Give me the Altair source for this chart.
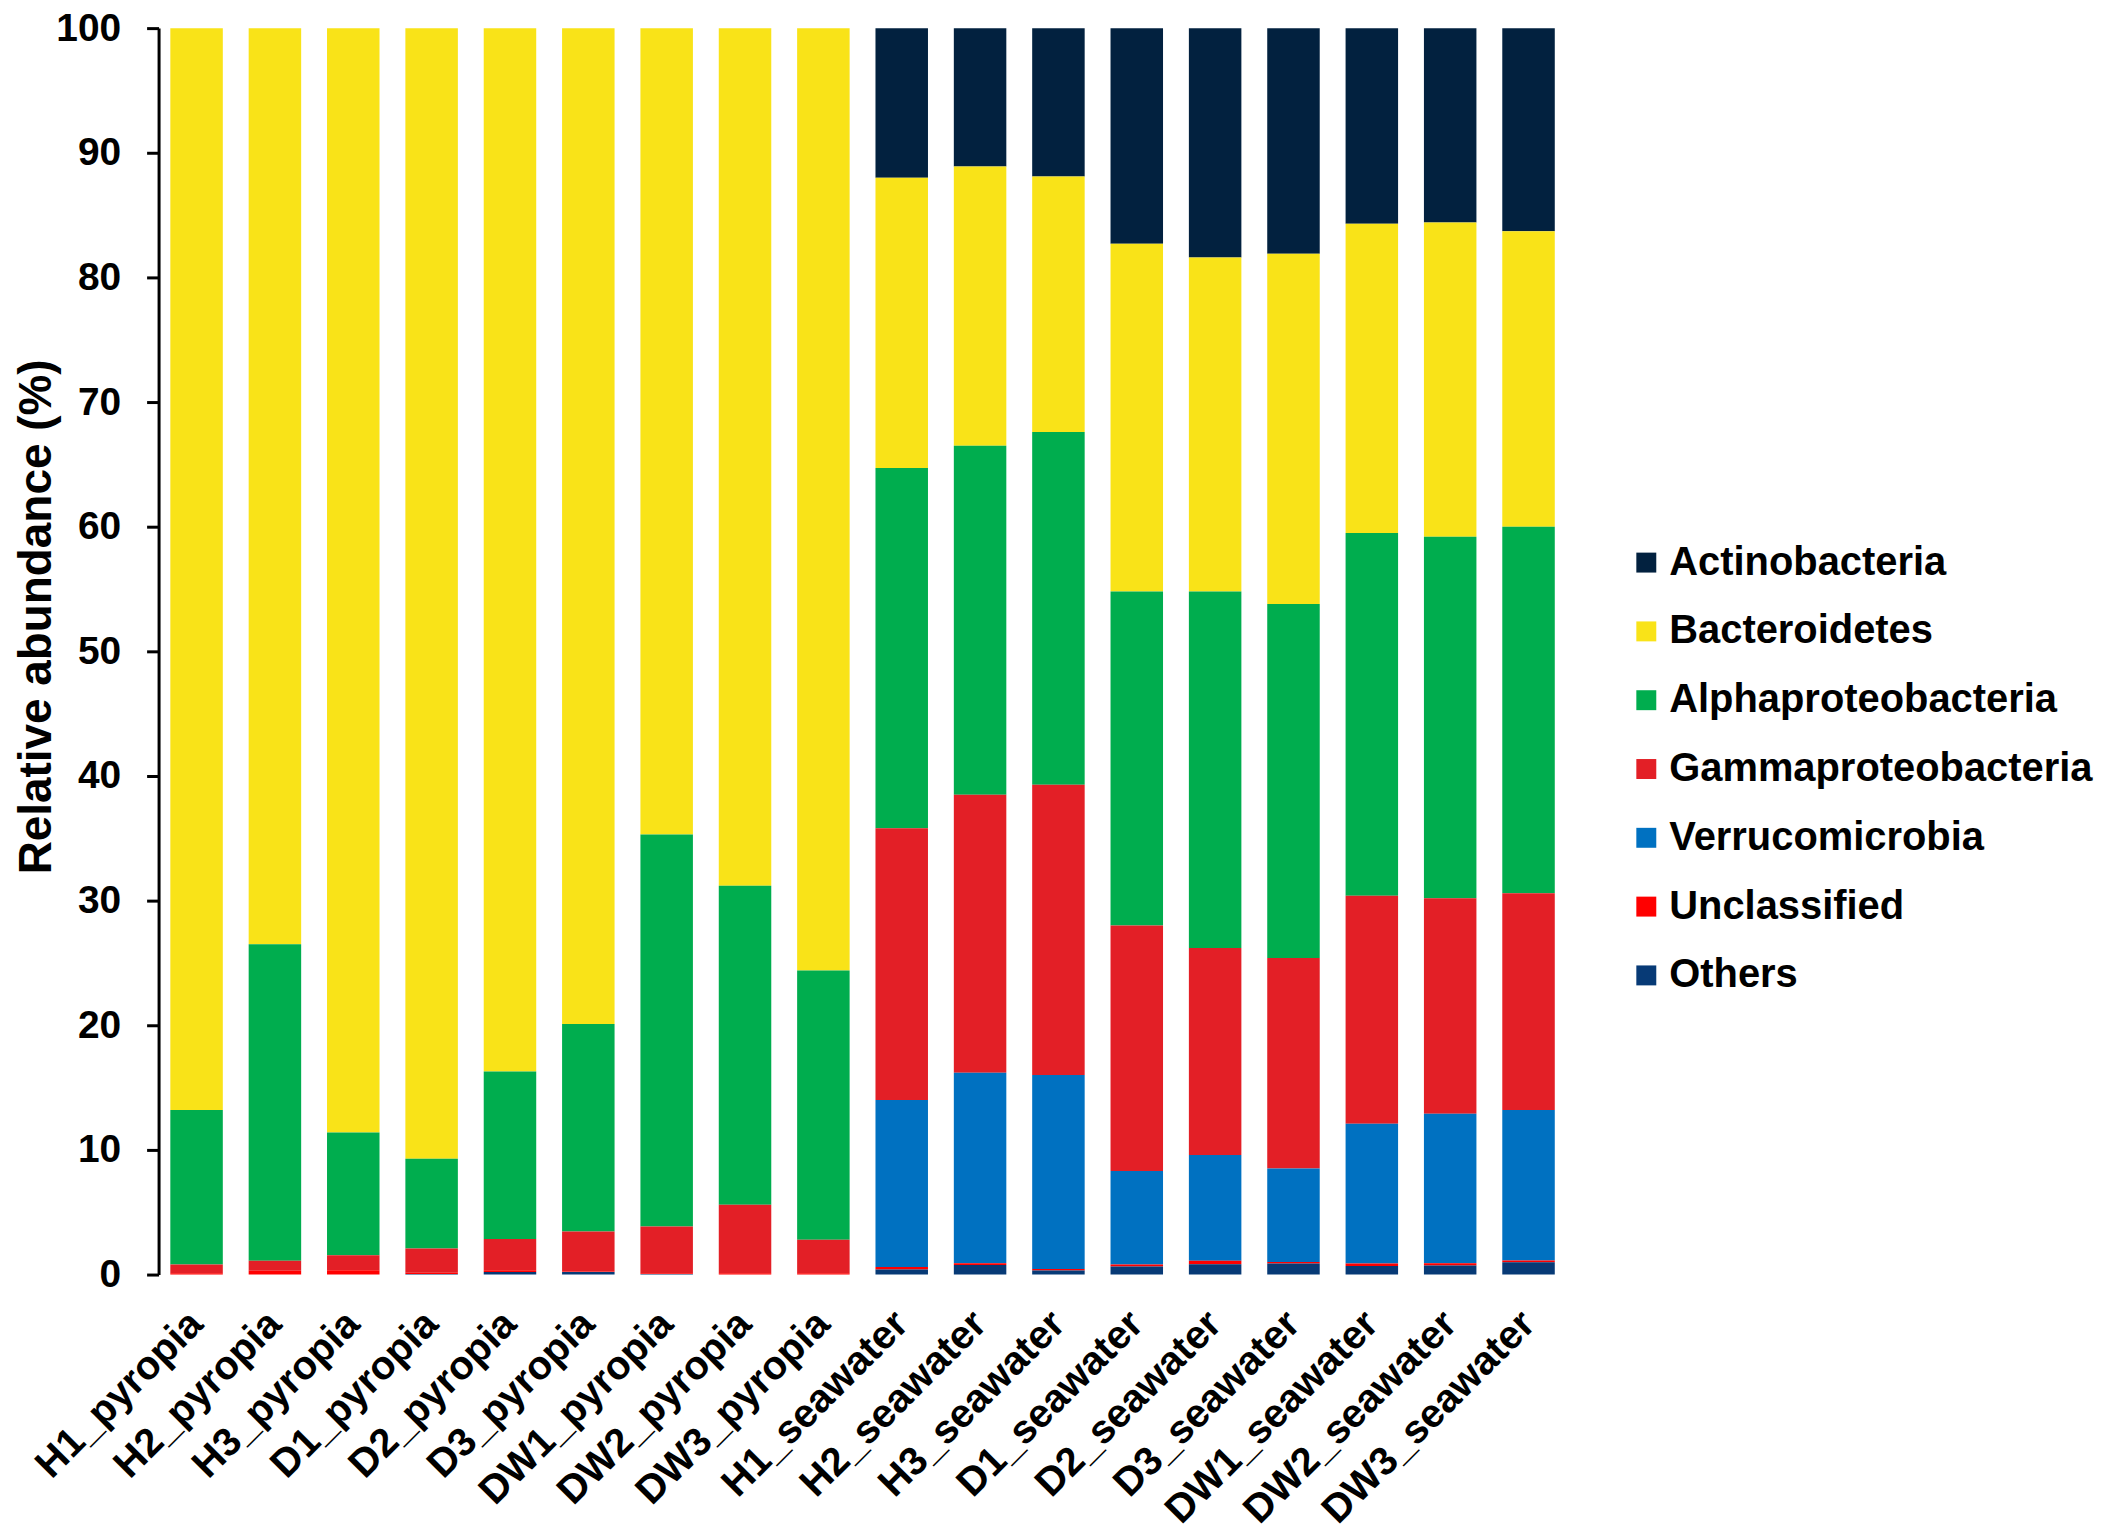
import altair as alt
import pandas as pd

samples = ["H1_pyropia", "H2_pyropia", "H3_pyropia", "D1_pyropia", "D2_pyropia",
           "D3_pyropia", "DW1_pyropia", "DW2_pyropia", "DW3_pyropia",
           "H1_seawater", "H2_seawater", "H3_seawater", "D1_seawater", "D2_seawater",
           "D3_seawater", "DW1_seawater", "DW2_seawater", "DW3_seawater"]

taxa = ["Actinobacteria", "Bacteroidetes", "Alphaproteobacteria",
        "Gammaproteobacteria", "Verrucomicrobia", "Unclassified", "Others"]
colors = ["#02213F", "#F9E318", "#00AD4E", "#E31F26", "#0071C1", "#FF0000", "#073A76"]

actinobacteria = [0, 0, 0, 0, 0, 0, 0, 0, 0,
                  12.0, 11.1, 11.9, 17.3, 18.4, 18.1, 15.7, 15.6, 16.3]
bacteroidetes = [86.8, 73.5, 88.6, 90.7, 83.7, 79.9, 64.7, 68.8, 75.6,
                 23.3, 22.4, 20.5, 27.9, 26.8, 28.1, 24.8, 25.2, 23.7]
alphaproteobacteria = [12.4, 25.4, 9.85, 7.2, 13.45, 16.65, 31.45, 25.6, 21.6,
                       28.9, 28.0, 28.3, 26.8, 28.6, 28.4, 29.1, 29.0, 29.4]
gammaproteobacteria = [0.7, 0.8, 1.2, 1.95, 2.5, 3.2, 3.75, 5.5, 2.7,
                       21.8, 22.3, 23.3, 19.7, 16.6, 16.9, 18.3, 17.3, 17.4]
verrucomicrobia = [0, 0, 0, 0, 0, 0, 0, 0, 0,
                   13.4, 15.3, 15.55, 7.5, 8.5, 7.5, 11.22, 12.0, 12.08]
unclassified = [0.1, 0.3, 0.35, 0.1, 0.15, 0.05, 0.05, 0.1, 0.1,
                0.2, 0.13, 0.13, 0.16, 0.27, 0.12, 0.19, 0.18, 0.13]
others = [0, 0, 0, 0.05, 0.2, 0.2, 0.05, 0, 0,
          0.4, 0.77, 0.32, 0.64, 0.83, 0.88, 0.69, 0.72, 0.99]

series = [actinobacteria, bacteroidetes, alphaproteobacteria, gammaproteobacteria,
          verrucomicrobia, unclassified, others]

rows = []
for ti, (name, vals) in enumerate(zip(taxa, series)):
    for s, v in zip(samples, vals):
        rows.append({"sample": s, "taxon": name, "value": v, "ord": len(taxa) - ti})
df = pd.DataFrame(rows)

FONT = "Liberation Sans"
label_expr = "indexof(['Bacteroidetes','Alphaproteobacteria','Gammaproteobacteria'], datum.label) >= 0 ? '\u00a0' + datum.label : datum.label"

chart = alt.Chart(df).mark_bar().encode(
    x=alt.X("sample:N", sort=samples,
            scale=alt.Scale(paddingInner=0.33, paddingOuter=0.15),
            axis=alt.Axis(title=None, domain=False, ticks=False,
                          labelAngle=315, labelAlign="right", labelBaseline="middle",
                          labelFont=FONT, labelFontSize=40, labelFontWeight="bold",
                          labelColor="black", labelPadding=43, labelLimit=1000)),
    y=alt.Y("value:Q", stack="zero",
            scale=alt.Scale(domain=[0, 100], nice=False),
            axis=alt.Axis(values=list(range(0, 101, 10)), grid=False,
                          domainColor="black", domainWidth=3,
                          tickColor="black", tickWidth=3, tickSize=12,
                          labelFont=FONT, labelFontSize=39, labelFontWeight="bold",
                          labelColor="black", labelPadding=26,
                          title="Relative abundance (%)", titleFont=FONT,
                          titleFontSize=46, titleFontWeight="bold", titleColor="black",
                          titleAngle=270, titleX=-122, titleY=590,
                          titleAlign="center", titleBaseline="middle")),
    color=alt.Color("taxon:N", sort=taxa,
                    scale=alt.Scale(domain=taxa, range=colors),
                    legend=alt.Legend(title=None, orient="none", legendX=1472, legendY=516,
                                      symbolType="square", symbolSize=400,
                                      symbolStrokeWidth=0, labelFont=FONT,
                                      labelFontSize=40, labelFontWeight="bold",
                                      labelColor="black", labelOffset=3,
                                      rowPadding=29, padding=0, labelExpr=label_expr,
                                      labelLimit=600)),
    order=alt.Order("ord:Q", sort="ascending"),
).properties(
    width=1412, height=1250,
    autosize=alt.AutoSizeParams(type="none"),
    padding={"left": 151, "top": 18, "right": 536, "bottom": 255},
).configure_view(stroke=None)

chart.save("out.html", embed_options={"renderer": "svg", "actions": False})
